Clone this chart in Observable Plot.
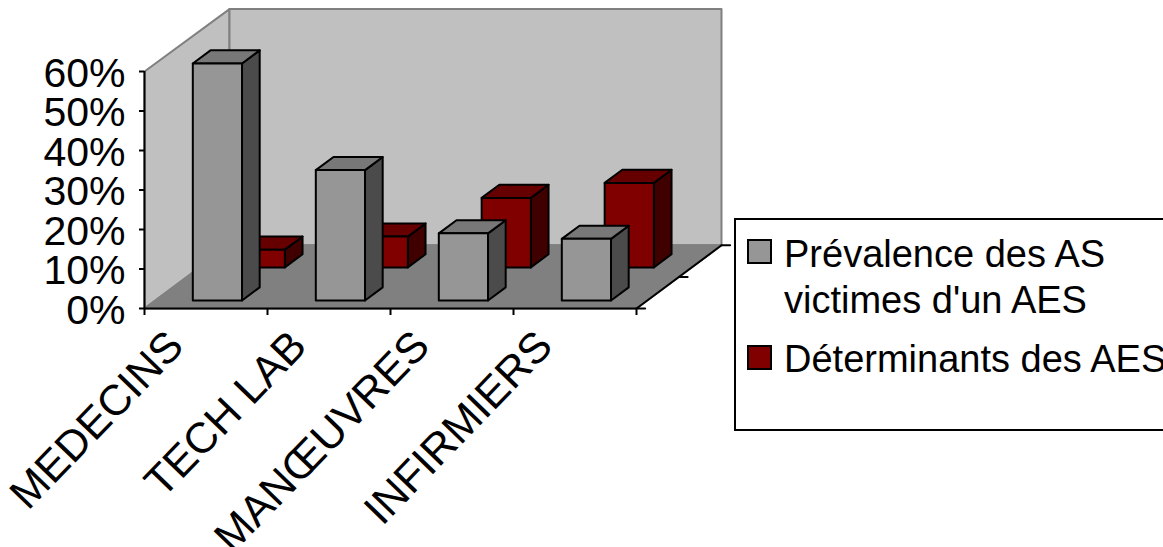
<!DOCTYPE html>
<html>
<head>
<meta charset="utf-8">
<script src="https://cdn.jsdelivr.net/npm/d3@7"></script>
<script src="https://cdn.jsdelivr.net/npm/@observablehq/plot@0.6"></script>
<style>
html,body{margin:0;padding:0;background:#fff;overflow:hidden;width:1163px;height:547px}
#wrap{position:relative;width:1163px;height:547px;overflow:hidden;font-family:"Liberation Sans",Arial,sans-serif}
#legend{position:absolute;left:734px;top:218px;width:600px;height:209px;border:2px solid #000;background:#fff;box-sizing:content-box}
#legend .sw{position:absolute;left:11px;width:21px;height:21px;border:2px solid #000}
#legend .t{position:absolute;left:48px;font-size:38px;line-height:46px;color:#000;white-space:nowrap}
svg text{font-family:"Liberation Sans",Arial,sans-serif}
</style>
</head>
<body>
<div id="wrap"></div>
<script>
const categories = ["MEDECINS", "TECH LAB", "MANŒUVRES", "INFIRMIERS"];
const prevalence = [60, 33, 17, 15.6];
const determinants = [4.5, 7.8, 17.6, 21.4];
const yTicks = [0, 10, 20, 30, 40, 50, 60];
const legendLabels = ["Prévalence des AS\nvictimes d'un AES", "Déterminants des AES"];
const wallTop = 75.8;

// oblique projection of the chart depth (0 = front, 1 = back) onto the x and y scales
const depthX = 0.691, depthY = 16;
const P = (x, v, d) => ({x: x + d * depthX, y: v + d * depthY});
const barW = 0.4;

function poly(points, id) { return [...points, points[0]].map(p => ({...p, id})); }

function barFaces(values, d0, d1, gap, name) {
  const front = [], top = [], side = [];
  values.forEach((v, i) => {
    const a = i + gap, b = a + barW;
    front.push(...poly([P(a, 0, d0), P(b, 0, d0), P(b, v, d0), P(a, v, d0)], name + i));
    top.push(...poly([P(a, v, d0), P(b, v, d0), P(b, v, d1), P(a, v, d1)], name + i));
    side.push(...poly([P(b, 0, d0), P(b, 0, d1), P(b, v, d1), P(b, v, d0)], name + i));
  });
  return {front, top, side};
}
const faceMark = (data, fill, stroke = "#000") =>
  Plot.line(data, {x: "x", y: "y", z: "id", fill, stroke, strokeWidth: 2, strokeLinejoin: "round", curve: "linear"});

const gray = barFaces(prevalence, 0.127, 0.335, 0.305, "g");
const red = barFaces(determinants, 0.65, 0.858, 0.292, "r");

const leftWall = poly([P(0, 0, 0), P(0, 0, 1), P(0, wallTop - depthY, 1), P(0, 60, 0)], "l");
const backWall = poly([P(0, 0, 1), P(4, 0, 1), P(4, wallTop - depthY, 1), P(0, wallTop - depthY, 1)], "b");
const floor = poly([P(0, 0, 0), P(4, 0, 0), P(4, 0, 1), P(0, 0, 1)], "f");
const depthAxis = [P(4, 0, 0), P(4, 0, 1)];
const depthTicks = [0, 0.5, 1].flatMap(d => [
  {...P(4, 0, d), id: d}, {x: P(4, 0, d).x + 0.07, y: P(4, 0, d).y, id: d}
]);

const chart = Plot.plot({
  width: 1163, height: 547,
  marginLeft: 144, marginRight: 527, marginTop: 71, marginBottom: 239,
  style: {background: "transparent", overflow: "visible"},
  x: {type: "linear", domain: [0, 4]},
  y: {domain: [0, 60]},
  marks: [
    faceMark(leftWall, "#c0c0c0", "#808080"),
    faceMark(backWall, "#c0c0c0", "#808080"),
    faceMark(floor, "#808080", "#808080"),
    faceMark(red.side, "#400000"),
    faceMark(red.top, "#660000"),
    faceMark(red.front, "#800000"),
    faceMark(gray.side, "#4b4b4b"),
    faceMark(gray.top, "#787878"),
    faceMark(gray.front, "#969696"),
    Plot.ruleX([0], {stroke: "#000", strokeWidth: 2}),
    Plot.ruleY([0], {stroke: "#000", strokeWidth: 2}),
    Plot.line(depthAxis, {x: "x", y: "y", stroke: "#000", strokeWidth: 2}),
    Plot.line(depthTicks, {x: "x", y: "y", z: "id", stroke: "#000", strokeWidth: 2}),
    Plot.axisY({ticks: yTicks, tickFormat: () => "", tickSize: 5, strokeWidth: 2, stroke: "#000", label: null, anchor: "left"}),
    Plot.axisY({ticks: yTicks, tickFormat: d => d + "%", tickSize: 0, tickPadding: 19,
      fontSize: 41, dy: 2, fill: "#000", label: null, anchor: "left"}),
    Plot.axisX({ticks: d3.range(0, 5), tickFormat: () => "", tickSize: 7, strokeWidth: 2, stroke: "#000", label: null, anchor: "bottom"}),
    Plot.axisX({ticks: categories.map((_, i) => i + 0.255), tickFormat: d => categories[Math.floor(d)],
      tickSize: 0, tickRotate: -46, fontSize: 43, fill: "#000", label: null, anchor: "bottom", tickPadding: 30})
  ]
});
const wrap = document.getElementById("wrap");
wrap.appendChild(chart);

const legend = document.createElement("div");
legend.id = "legend";
const swatches = [["#969696", 19], ["#800000", 125]];
const lines = [[legendLabels[0].split("\n")[0], 11], [legendLabels[0].split("\n")[1], 57], [legendLabels[1], 116]];
swatches.forEach(([c, top]) => {
  const s = document.createElement("div");
  s.className = "sw"; s.style.background = c; s.style.top = top + "px";
  legend.appendChild(s);
});
lines.forEach(([txt, top]) => {
  const t = document.createElement("div");
  t.className = "t"; t.textContent = txt; t.style.top = top + "px";
  legend.appendChild(t);
});
wrap.appendChild(legend);
</script>
</body>
</html>
